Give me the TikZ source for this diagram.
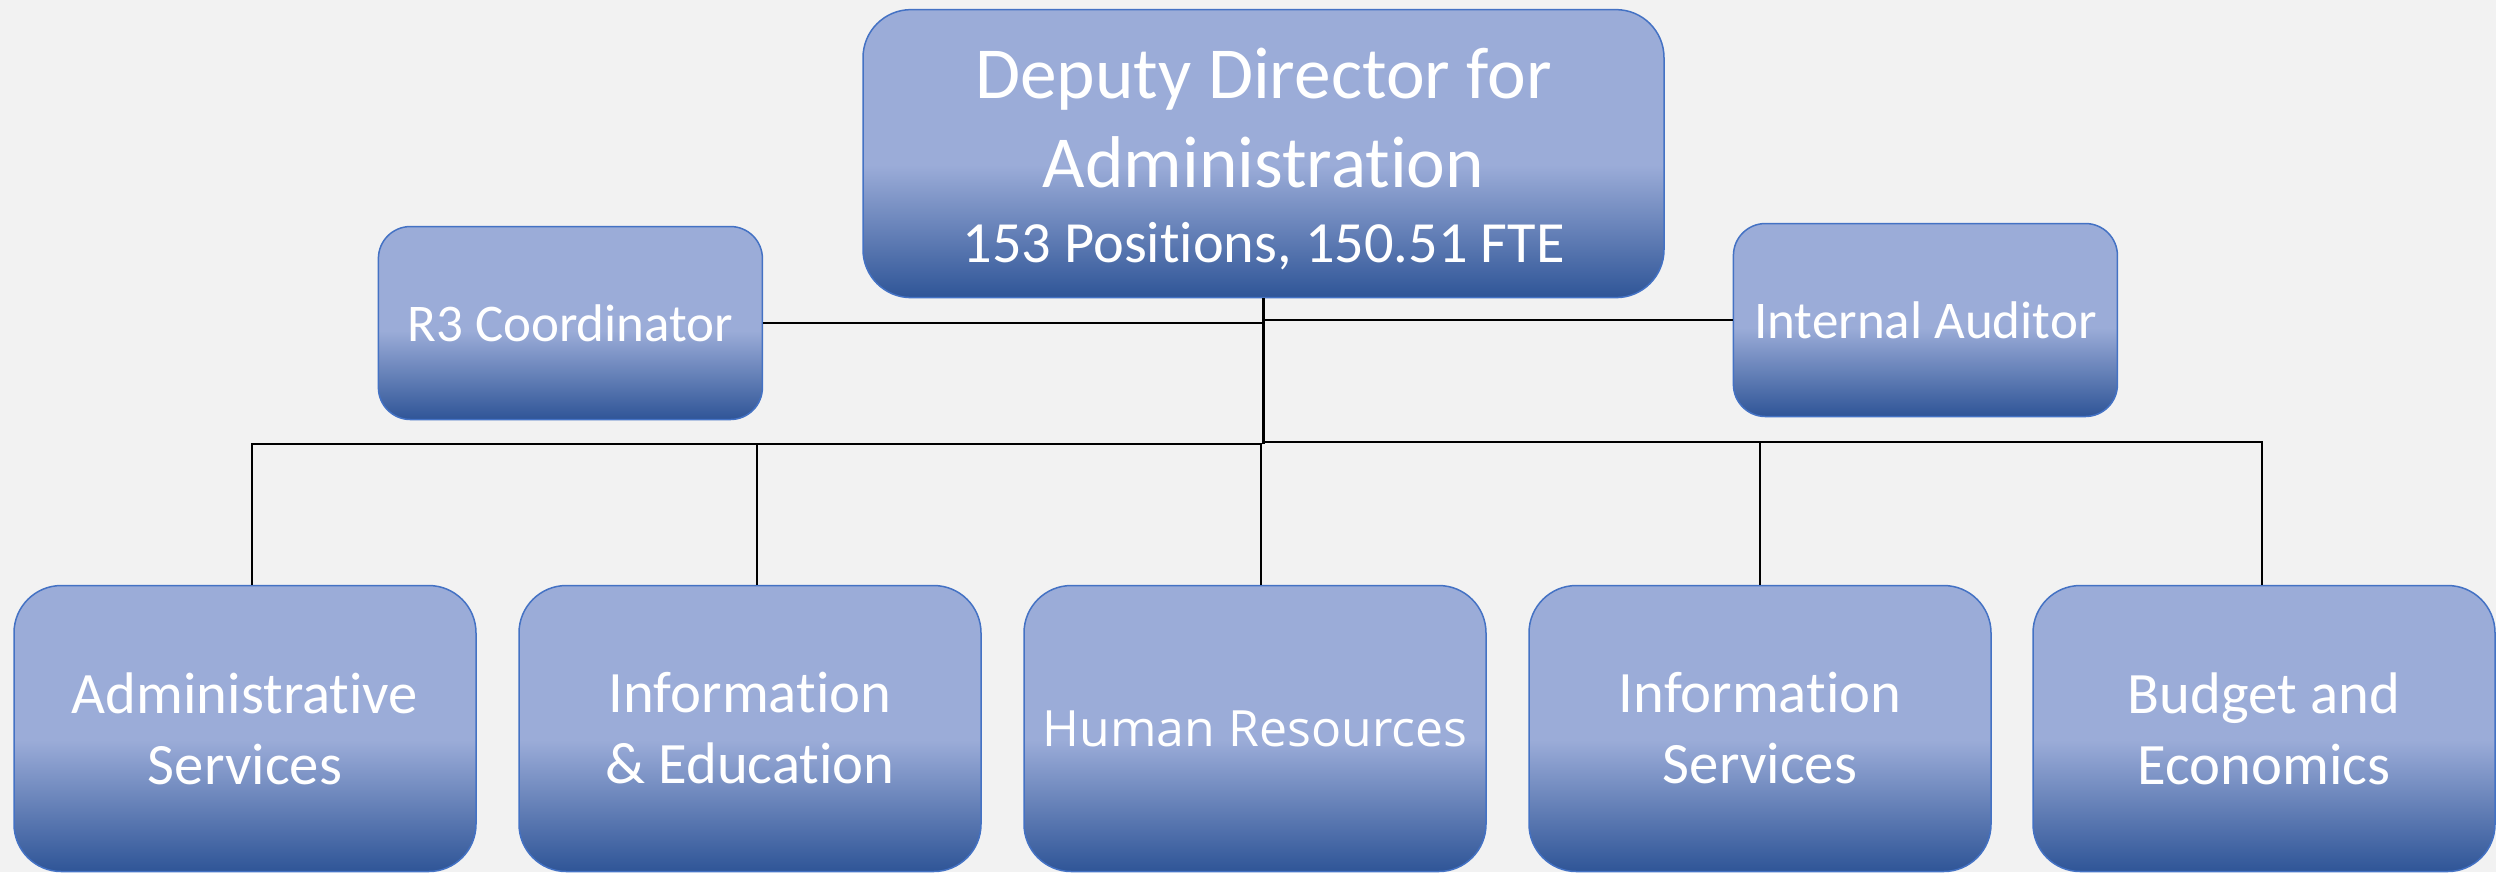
\documentclass[tikz,border=0pt]{standalone}
\usepackage{fontspec}
\setmainfont{Carlito}[Ligatures={NoCommon}]
\newfontfamily\osans{Open Sans}
\definecolor{bglight}{RGB}{242,242,242}
\definecolor{blight}{RGB}{155,172,216}
\definecolor{bdark}{RGB}{47,85,151}
\definecolor{bborder}{RGB}{68,114,196}
\pgfdeclareverticalshading{boxshade}{100bp}{color(0bp)=(bdark); color(25bp)=(bdark); color(48bp)=(blight); color(100bp)=(blight)}
\begin{document}
\begin{tikzpicture}[x=0.3pt,y=-0.3pt,
  orgbox/.style={rectangle, shading=boxshade, draw=bborder, line width=0.45pt,
    text=white, align=center, inner sep=0pt},
  bigbox/.style={orgbox, rounded corners=14.2pt, minimum width=138.6pt, minimum height=85.8pt,
    font=\fontsize{17.6}{21.3}\selectfont},
  smallbox/.style={orgbox, rounded corners=9.6pt, minimum width=115.2pt, minimum height=57.9pt,
    font=\fontsize{15.9}{19}\selectfont},
  conn/.style={draw=black, line width=0.4pt},
  trunk/.style={draw=black, line width=0.8pt}]
\useasboundingbox (0,0) rectangle (2496,872);
\fill[bglight] (0,0) rectangle (2496,872);

\node[orgbox, rounded corners=14.4pt, minimum width=240.3pt, minimum height=86.4pt,
  font=\fontsize{22}{26.7}\selectfont] (top) at (1263.5,153.6)
  {\rule{0pt}{18.5pt}Deputy Director for\\Administration\\[-4.2pt]{\fontsize{17.5}{21}\selectfont 153 Positions, 150.51 FTE}};

\node[smallbox] (r3) at (570.4,323) {R3 Coordinator};
\node[smallbox] (aud) at (1925.4,320) {Internal Auditor};

\node[bigbox] (adm) at (245,728.5) {Administrative\\Services};
\node[bigbox] (ied) at (750,728.5) {Information\\\& Education};
\node[bigbox, font=\osans\fontsize{15}{19}\selectfont] (hr) at (1255,728.5) {Human Resources};
\node[bigbox] (isv) at (1760,728.5) {Information\\Services};
\node[bigbox] (bud) at (2264,728.5) {Budget and\\Economics};

\coordinate (jL) at (1262,444);
\coordinate (jR) at (1263,442);

\draw[conn] (r3.east) -- (r3.east -| top.south);
\draw[conn] (aud.west) -- (aud.west -| top.south);
\draw[conn] (jL) -| ([xshift=2.1pt]adm.north);
\draw[conn] (jL) -| ([xshift=2.1pt]ied.north);
\draw[conn] (jL) -| ([xshift=1.8pt]hr.north);
\draw[conn] (jR) -| (isv.north);
\draw[conn] (jR) -| ([xshift=-0.6pt]bud.north);
\draw[trunk] (top.south) -- (top.south |- jL);
\end{tikzpicture}
\end{document}
